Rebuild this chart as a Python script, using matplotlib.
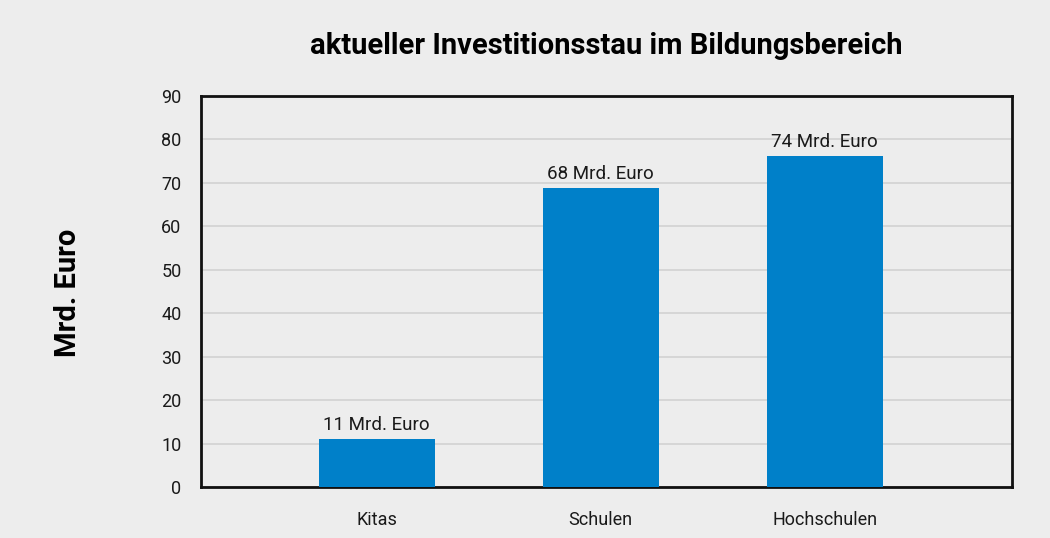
import matplotlib.pyplot as plt
from matplotlib import font_manager

categories = ["Kitas", "Schulen", "Hochschulen"]
values = [11.0, 68.8, 76.1]
value_labels = ["11 Mrd. Euro", "68 Mrd. Euro", "74 Mrd. Euro"]
yticks = [0, 10, 20, 30, 40, 50, 60, 70, 80, 90]

names = {f.name for f in font_manager.fontManager.ttflist}
family = ["Liberation Sans Narrow", "Roboto", "DejaVu Sans"]
family = [f for f in family if f in names] or ["DejaVu Sans"]
plt.rcParams["font.family"] = family

bg = "#ededed"
fig = plt.figure(figsize=(10.5, 5.38), dpi=100, facecolor=bg)
ax = fig.add_axes([0.1914, 0.0948, 0.7724, 0.7268])
ax.set_facecolor(bg)

x = list(range(len(categories)))
bars = ax.bar(x, values, width=0.518, color="#0080c9", zorder=3)
for b, lab in zip(bars, value_labels):
    ax.annotate(lab, (b.get_x() + b.get_width() / 2, b.get_height()),
                xytext=(0, 4), textcoords="offset points",
                ha="center", va="bottom", fontsize=13.5, color="#1a1a1a")

ax.set_xlim(-0.785, 2.836)
ax.set_ylim(0, 90)
ax.set_yticks(yticks)
ax.set_xticks(x)
ax.set_xticklabels(categories)
ax.tick_params(axis="both", length=0, labelsize=13, colors="#1a1a1a")
ax.tick_params(axis="y", pad=14)
ax.tick_params(axis="x", pad=17)
ax.grid(axis="y", color="#d2d2d2", linewidth=1.2, zorder=0)
for s in ax.spines.values():
    s.set_color("#111111")
    s.set_linewidth(2)

ax.set_title("aktueller Investitionsstau im Bildungsbereich",
             fontsize=21, fontweight="bold", pad=30)
fig.text(0.065, 0.455, "Mrd. Euro", rotation=90, ha="center", va="center",
         fontsize=21, fontweight="bold")

fig.savefig("out.png", dpi=100, facecolor=bg)
